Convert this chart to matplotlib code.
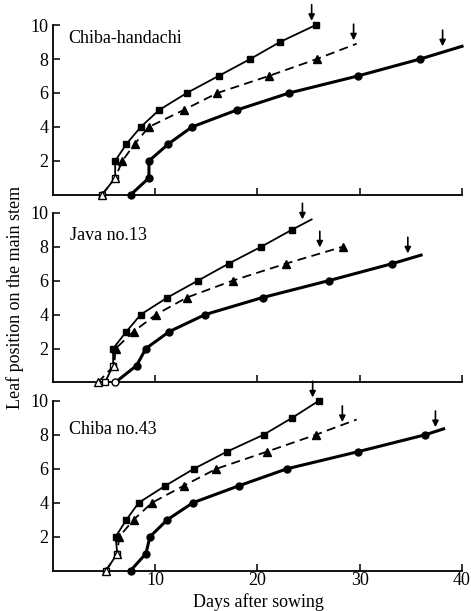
import matplotlib.pyplot as plt

plt.rcParams['font.family'] = ['Liberation Serif', 'DejaVu Serif']

day_ticks = [10, 20, 30, 40]
leaf_ticks = [2, 4, 6, 8, 10]
cultivars = ['Chiba-handachi', 'Java no.13', 'Chiba no.43']

# Chiba-handachi
ch_sq_x = [4.8, 6.1, 6.1, 7.2, 8.6, 10.4, 13.1, 16.2, 19.3, 22.2, 25.7]
ch_sq_y = [0, 1, 2, 3, 4, 5, 6, 7, 8, 9, 10]
ch_tr_x = [4.8, 6.1, 6.8, 8.0, 9.4, 12.8, 16.1, 21.1, 25.8, 29.7]
ch_tr_y = [0, 1, 2, 3, 4, 5, 6, 7, 8, 8.9]
ch_ci_x = [7.6, 9.4, 9.4, 11.3, 13.6, 18.0, 23.1, 29.8, 35.9, 40.0]
ch_ci_y = [0, 1, 2, 3, 4, 5, 6, 7, 8, 8.75]
ch_arrow_x = [25.3, 29.4, 38.1]
ch_arrow_y = [10.25, 9.1, 8.75]
ch_open = [2, 2, 0]
ch_tail = [False, True, True]

# Java no.13
jv_sq_x = [5.1, 5.9, 5.9, 7.2, 8.6, 11.2, 14.2, 17.2, 20.4, 23.4, 25.3]
jv_sq_y = [0, 1, 2, 3, 4, 5, 6, 7, 8, 9, 9.6]
jv_tr_x = [4.4, 6.0, 6.15, 7.9, 10.1, 13.1, 17.6, 22.8, 28.4]
jv_tr_y = [0, 1, 2, 3, 4, 5, 6, 7, 8]
jv_ci_x = [6.1, 8.2, 9.1, 11.4, 14.9, 20.5, 27.0, 33.2, 36.0]
jv_ci_y = [0, 1, 2, 3, 4, 5, 6, 7, 7.5]
jv_arrow_x = [24.4, 26.1, 34.7]
jv_arrow_y = [9.6, 7.95, 7.6]
jv_open = [2, 2, 1]
jv_tail = [True, False, True]

# Chiba no.43
c4_sq_x = [5.2, 6.3, 6.15, 7.2, 8.4, 11.0, 13.8, 17.0, 20.6, 23.4, 26.0]
c4_sq_y = [0, 1, 2, 3, 4, 5, 6, 7, 8, 9, 10]
c4_tr_x = [5.2, 6.3, 6.5, 7.9, 9.7, 12.8, 16.0, 20.9, 25.7, 29.7]
c4_tr_y = [0, 1, 2, 3, 4, 5, 6, 7, 8, 8.9]
c4_ci_x = [7.6, 9.1, 9.5, 11.2, 13.7, 18.2, 22.9, 29.8, 36.4, 38.2]
c4_ci_y = [0, 1, 2, 3, 4, 5, 6, 7, 8, 8.35]
c4_arrow_x = [25.4, 28.3, 37.4]
c4_arrow_y = [10.2, 8.75, 8.45]
c4_open = [2, 2, 0]
c4_tail = [False, True, True]

panels = [
    ([(ch_sq_x, ch_sq_y), (ch_tr_x, ch_tr_y), (ch_ci_x, ch_ci_y)], ch_arrow_x, ch_arrow_y, ch_open, ch_tail),
    ([(jv_sq_x, jv_sq_y), (jv_tr_x, jv_tr_y), (jv_ci_x, jv_ci_y)], jv_arrow_x, jv_arrow_y, jv_open, jv_tail),
    ([(c4_sq_x, c4_sq_y), (c4_tr_x, c4_tr_y), (c4_ci_x, c4_ci_y)], c4_arrow_x, c4_arrow_y, c4_open, c4_tail),
]

styles = [
    dict(marker='s', ls='-', lw=1.3, ms=5.0),
    dict(marker='^', ls=(0, (5, 3)), lw=1.3, ms=5.5),
    dict(marker='o', ls='-', lw=2.2, ms=5.0),
]

name_pos = [(1.5, 9.2), (1.7, 8.65), (1.6, 8.3)]
bottoms = [0.681, 0.374, 0.066]

fig = plt.figure(figsize=(4.71, 6.11), dpi=100)

for i, (series, ax_x, ax_y, n_open, tail) in enumerate(panels):
    ax = fig.add_axes([0.112, bottoms[i], 0.869, 0.278])
    ax.set_xlim(0, 40)
    ax.set_ylim(0, 10)
    for (x, y), st, n0, has_tail in zip(series, styles, n_open, tail):
        ax.plot(x, y, color='black', ls=st['ls'], lw=st['lw'], clip_on=False)
        n = len(x) - 1 if has_tail else len(x)
        ax.plot(x[:n0], y[:n0], ls='none', marker=st['marker'], ms=st['ms'],
                mfc='white', mec='black', mew=1.0, clip_on=False, zorder=3)
        ax.plot(x[n0:n], y[n0:n], ls='none', marker=st['marker'], ms=st['ms'],
                mfc='black', mec='black', clip_on=False, zorder=3)
    for xa, ya in zip(ax_x, ax_y):
        ax.annotate('', xy=(xa, ya), xytext=(xa, ya + 0.95),
                    arrowprops=dict(arrowstyle='-|>', color='black', lw=1.2,
                                    mutation_scale=9, shrinkA=0, shrinkB=0),
                    annotation_clip=False)
    ax.text(name_pos[i][0], name_pos[i][1], cultivars[i], fontsize=13, va='center')

    ax.spines['top'].set_visible(False)
    ax.spines['right'].set_visible(False)
    ax.spines['left'].set_linewidth(1.3)
    ax.spines['bottom'].set_linewidth(1.3)
    ax.set_xticks(day_ticks)
    ax.set_yticks(leaf_ticks)
    ax.tick_params(direction='in', length=5, width=1.1, labelsize=13, pad=3)
    ax.tick_params(axis='x', pad=1)
    if i < 2:
        ax.tick_params(axis='x', labelbottom=False)

fig.text(0.032, 0.513, 'Leaf position on the main stem', rotation=90,
         fontsize=13, ha='center', va='center')
fig.text(0.548, 0.015, 'Days after sowing', fontsize=13, ha='center', va='center')

fig.savefig('out.png', dpi=100)
